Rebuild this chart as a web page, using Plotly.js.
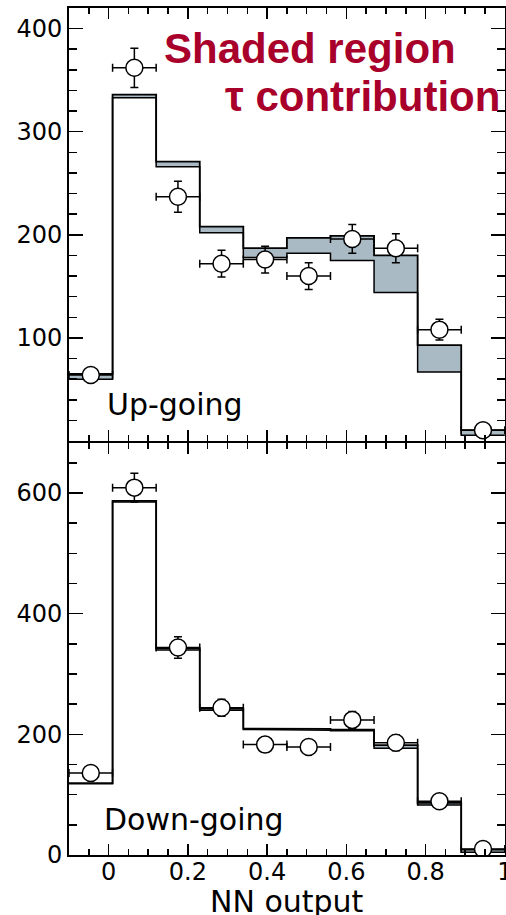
<!DOCTYPE html>
<html>
<head>
<meta charset="utf-8">
<script src="https://cdn.plot.ly/plotly-3.0.1.min.js"></script>
<style>html,body{margin:0;padding:0;background:#fff;}</style>
</head>
<body>
<div id="chart" style="width:506px;height:915px;"></div>
<script>
// Bin edges of the NN output histogram
const edges = [-0.1, 0.01, 0.12, 0.23, 0.34, 0.45, 0.56, 0.67, 0.78, 0.89, 1.0];
const centers = [-0.045, 0.065, 0.175, 0.285, 0.395, 0.505, 0.615, 0.725, 0.835, 0.945];

// Up-going: expectation without and with tau contribution
const upNoTau   = [60, 333, 266, 202, 178, 182, 175, 144, 67, 5.5];
const upWithTau = [65, 336, 271, 208, 187, 197, 199, 180, 93, 10.5];
const upData    = [64, 362, 237, 172, 176, 160, 196, 187, 108, 10.5];
const upErr     = [7, 19, 15, 13, 13, 13, 14, 14, 10, 3];

// Down-going
const downNoTau   = [118, 585, 340, 240, 208, 207, 206, 177, 83, 4.5];
const downWithTau = [119, 587, 343, 242.5, 209.5, 209, 208, 182, 86.5, 9];
const downData    = [136, 609, 344, 244, 183, 179, 224, 186, 89, 10];
const downErr     = [11, 24, 18, 14, 12, 12, 14, 13, 9, 4];

const upTicks = [100, 200, 300, 400];

function steps(vals) {
  const xs = [], ys = [];
  for (let i = 0; i < vals.length; i++) {
    xs.push(edges[i], edges[i + 1]);
    ys.push(vals[i], vals[i]);
  }
  return {x: xs, y: ys};
}
const halfW = centers.map((c, i) => (edges[i + 1] - edges[i]) / 2);

const shade = '#a9bac5';
const s1 = steps(upNoTau), s2 = steps(upWithTau), s3 = steps(downNoTau), s4 = steps(downWithTau);

function pts(y, err, xa, ya) {
  return {
    x: centers, y: y, xaxis: xa, yaxis: ya, mode: 'markers', type: 'scatter',
    marker: {symbol: 'circle', size: 17, color: 'white', line: {color: 'black', width: 1.5}},
    error_y: {type: 'data', array: err, visible: true, color: 'black', thickness: 1.5, width: 4},
    error_x: {type: 'data', array: halfW, visible: true, color: 'black', thickness: 1.5, width: 4},
    hoverinfo: 'skip'
  };
}

const traces = [
  {x: s1.x, y: s1.y, xaxis: 'x', yaxis: 'y', mode: 'lines', type: 'scatter', line: {color: 'black', width: 1.5}},
  {x: s2.x, y: s2.y, xaxis: 'x', yaxis: 'y', mode: 'lines', type: 'scatter', fill: 'tonexty', fillcolor: shade, line: {color: 'black', width: 1.8}},
  {x: s3.x, y: s3.y, xaxis: 'x2', yaxis: 'y2', mode: 'lines', type: 'scatter', line: {color: 'black', width: 1.5}},
  {x: s4.x, y: s4.y, xaxis: 'x2', yaxis: 'y2', mode: 'lines', type: 'scatter', fill: 'tonexty', fillcolor: shade, line: {color: 'black', width: 1.8}},
  pts(upData, upErr, 'x', 'y'),
  pts(downData, downErr, 'x2', 'y2')
];

const tickFont = {family: 'DejaVu Sans', size: 24, color: 'black'};
const xBase = {
  range: [-0.1, 1.0005], tick0: 0, dtick: 0.2, ticks: 'inside', ticklen: 11, tickwidth: 1.5, tickcolor: 'black',
  showline: true, linewidth: 2, linecolor: 'black', mirror: 'allticks', showgrid: false, zeroline: false,
  minor: {tickmode: 'linear', tick0: 0, dtick: 0.05, ticks: 'inside', ticklen: 6, tickwidth: 1.5, tickcolor: 'black', showgrid: false},
  tickfont: tickFont, ticklabeloverflow: 'allow'
};
const split = 0.4876;
const gap = 0.00118;

const layout = {
  width: 506, height: 915,
  margin: {l: 69, r: 1, t: 8, b: 60},
  showlegend: false,
  paper_bgcolor: 'white', plot_bgcolor: 'white',
  font: {family: 'DejaVu Sans', color: 'black'},
  xaxis: Object.assign({}, xBase, {anchor: 'y', showticklabels: false}),
  xaxis2: Object.assign({}, xBase, {anchor: 'y2', showticklabels: true, ticklabelstandoff: -6}),
  yaxis: {
    domain: [split + gap, 1], range: [0, 420], tickmode: 'array', tickvals: upTicks,
    ticks: 'inside', ticklen: 14, tickwidth: 1.5, tickcolor: 'black',
    showline: true, linewidth: 2, linecolor: 'black', mirror: 'allticks', showgrid: false, zeroline: false,
    minor: {tickmode: 'linear', tick0: 0, dtick: 20, ticks: 'inside', ticklen: 8, tickwidth: 1.5, tickcolor: 'black', showgrid: false},
    tickfont: tickFont, anchor: 'x'
  },
  yaxis2: {
    domain: [0, split - gap], range: [0, 683], tick0: 0, dtick: 200,
    ticks: 'inside', ticklen: 14, tickwidth: 1.5, tickcolor: 'black',
    showline: true, linewidth: 2, linecolor: 'black', mirror: 'allticks', showgrid: false, zeroline: false,
    minor: {tickmode: 'linear', tick0: 0, dtick: 50, ticks: 'inside', ticklen: 8, tickwidth: 1.5, tickcolor: 'black', showgrid: false},
    tickfont: tickFont, anchor: 'x2'
  },
  annotations: [
    {text: '<b>Shaded region</b>', xref: 'x', yref: 'y', x: 0.508, y: 381, xanchor: 'center', yanchor: 'middle',
     showarrow: false, font: {family: 'Liberation Sans', size: 42, color: '#a8002a'}},
    {text: '<b>τ contribution</b>', xref: 'x', yref: 'y', x: 0.64, y: 334, xanchor: 'center', yanchor: 'middle',
     showarrow: false, font: {family: 'Liberation Sans', size: 42, color: '#a8002a'}},
    {text: 'Up-going', xref: 'x', yref: 'y', x: 0.167, y: 35, xanchor: 'center', yanchor: 'middle',
     showarrow: false, font: {family: 'DejaVu Sans', size: 30, color: 'black'}},
    {text: 'Down-going', xref: 'x2', yref: 'y2', x: 0.216, y: 59, xanchor: 'center', yanchor: 'middle',
     showarrow: false, font: {family: 'DejaVu Sans', size: 30, color: 'black'}},
    {text: 'NN output', xref: 'paper', yref: 'paper', x: 0.5, y: -0.0548, xanchor: 'center', yanchor: 'middle',
     showarrow: false, font: {family: 'DejaVu Sans', size: 30, color: 'black'}}
  ]
};

Plotly.newPlot('chart', traces, layout, {displayModeBar: false, staticPlot: true});
</script>
</body>
</html>
